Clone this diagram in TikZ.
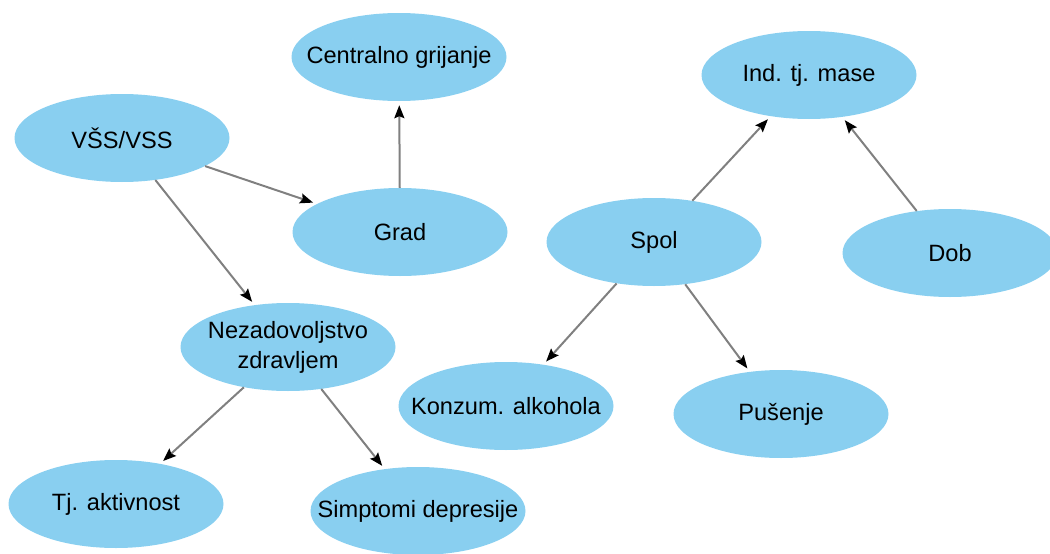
\documentclass[tikz,border=0pt]{standalone}
\usepackage{fontspec}
\setmainfont{Liberation Sans}
\usetikzlibrary{shapes.geometric,arrows.meta}
\definecolor{bubble}{RGB}{137,207,240}
\definecolor{edgegray}{RGB}{128,128,128}
\newcommand{\fixw}[1]{\makebox[0pt][c]{#1}}
\tikzset{
  bubblenode/.style={ellipse, fill=bubble, draw=none, minimum width=215pt, minimum height=88pt, inner sep=0pt, align=center, font=\fontsize{23.6}{30}\selectfont, text=black},
  link/.style={draw=edgegray, line width=2pt, -{Stealth[length=13pt,width=10pt,inset=2pt,fill=black,color=black]}, shorten >=4pt}
}
\begin{document}
\begin{tikzpicture}[x=1pt,y=-1pt]
\useasboundingbox (0,0) rectangle (1050,554);
\clip (0,0) rectangle (1050,554);
\node[bubblenode] (cg) at (399,57) {\fixw{Centralno grijanje}};
\node[bubblenode] (vss) at (122,138) {\fixw{VŠS/VSS}};
\node[bubblenode] (grad) at (400,232) {\fixw{Grad}};
\node[bubblenode] (ind) at (809,75) {\fixw{Ind. tj. mase}};
\node[bubblenode] (spol) at (654,242) {\fixw{Spol}};
\node[bubblenode] (dob) at (950,253) {\fixw{Dob}};
\node[bubblenode] (nez) at (288,347) {\fixw{Nezadovoljstvo}\\\fixw{zdravljem}};
\node[bubblenode] (konz) at (506,406) {\fixw{Konzum. alkohola}};
\node[bubblenode] (pus) at (781,414) {\fixw{Pušenje}};
\node[bubblenode] (tj) at (116,504) {\fixw{Tj. aktivnost}};
\node[bubblenode] (simp) at (418,511) {\fixw{Simptomi depresije}};
\draw[link] (vss) -- (grad);
\draw[link] (vss) -- (nez);
\draw[link] (grad) -- (cg);
\draw[link] (spol) -- (ind);
\draw[link] (dob) -- (ind);
\draw[link] (spol) -- (konz);
\draw[link] (spol) -- (pus);
\draw[link] (nez) -- (tj);
\draw[link] (nez) -- (simp);
\end{tikzpicture}
\end{document}
